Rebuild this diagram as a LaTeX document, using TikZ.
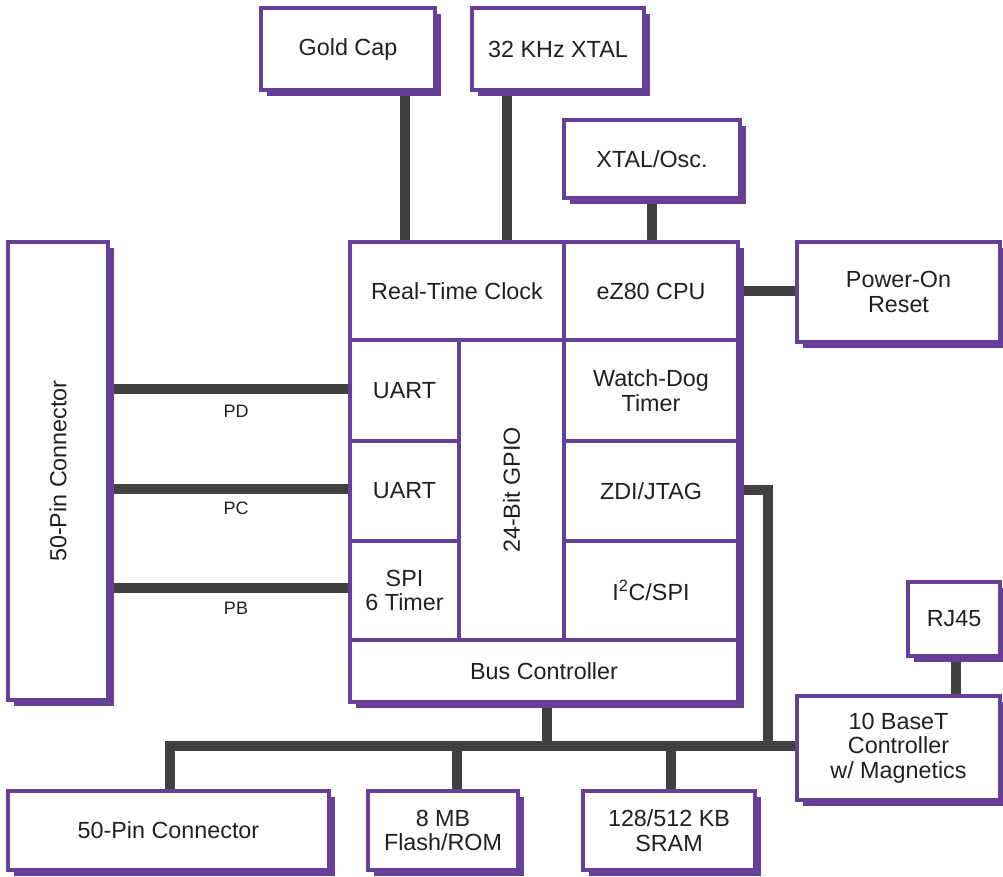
\documentclass[tikz,border=0pt]{standalone}
\usepackage{fontspec}
\setmainfont{Liberation Sans}
\usetikzlibrary{fit,shadows,backgrounds}
\definecolor{pur}{RGB}{101,63,152}
\definecolor{conc}{RGB}{64,64,64}
\definecolor{txt}{RGB}{35,31,32}
\begin{document}
\begin{tikzpicture}[x=0.75pt,y=-0.75pt,
  box/.style={draw=pur, line width=2.6pt, fill=white, inner sep=0pt, outer sep=0pt},
  sbox/.style={box, drop shadow={shadow xshift=4.5pt, shadow yshift=-4.5pt, fill=pur, opacity=1}},
  conn/.style={draw=conc, line width=7.5pt},
  tx/.style={text=txt, font=\fontsize{17.5}{18.5}\selectfont, align=center, inner sep=0pt},
  lbl/.style={text=txt, font=\fontsize{13.5}{15}\selectfont},
  rtxt/.style={tx, rotate=90}]

\useasboundingbox (0,0) rectangle (1003,876);

% outer boxes
\node[sbox, fit={(261,8)(435,90)}] (goldcap) {};
\node[tx] at (goldcap.center) {Gold Cap};
\node[sbox, fit={(472,8)(644,90)}] (xtal32) {};
\node[tx] at (xtal32.center) {32 KHz XTAL};
\node[sbox, fit={(564,120)(740,198)}] (xtalosc) {};
\node[tx] at (xtalosc.center) {XTAL/Osc.};
\node[sbox, fit={(797,242)(1000,342)}] (por) {};
\node[tx] at (por.center) {Power-On\\Reset};
\node[sbox, fit={(8,242)(108,700)}] (conL) {};
\node[rtxt] at (conL.center) {50-Pin Connector};
\node[sbox, fit={(908,582)(1000,656)}] (rj) {};
\node[tx] at (rj.center) {RJ45};
\node[sbox, fit={(797,696)(1000,800)}] (baset) {};
\node[tx] at (baset.center) {10 BaseT\\Controller\\w/ Magnetics};
\node[sbox, fit={(8,791)(329,870)}] (conB) {};
\node[tx] at (conB.center) {50-Pin Connector};
\node[sbox, fit={(368,791)(518,870)}] (flash) {};
\node[tx] at (flash.center) {8 MB\\Flash/ROM};
\node[sbox, fit={(583,791)(755,870)}] (sram) {};
\node[tx] at (sram.center) {128/512 KB\\SRAM};

% chip
\node[sbox, fit={(350,242)(738,702)}] (chip) {};
\node[box, fit={(350,242)(564,340)}] (rtc) {};
\node[tx] at (rtc.center) {Real-Time Clock};
\node[box, fit={(564,242)(738,340)}] (cpu) {};
\node[tx] at (cpu.center) {eZ80 CPU};
\node[box, fit={(350,340)(459,441)}] (uart1) {};
\node[tx] at (uart1.center) {UART};
\node[box, fit={(350,441)(459,541)}] (uart2) {};
\node[tx] at (uart2.center) {UART};
\node[box, fit={(350,541)(459,640)}] (spi) {};
\node[tx] at (spi.center) {SPI\\6 Timer};
\node[box, fit={(459,340)(564,640)}] (gpio) {};
\node[rtxt] at (gpio.center) {24-Bit GPIO};
\node[box, fit={(564,340)(738,441)}] (wdt) {};
\node[tx] at (wdt.center) {Watch-Dog\\Timer};
\node[box, fit={(564,441)(738,541)}] (zdi) {};
\node[tx] at (zdi.center) {ZDI/JTAG};
\node[box, fit={(564,541)(738,640)}] (i2c) {};
\node[tx] at (i2c.center) {I\textsuperscript{2}C/SPI};
\node[box, fit={(350,640)(738,702)}] (bus) {};
\node[tx] at (bus.center) {Bus Controller};

% labels
\node[lbl] at (236,411) (pd) {PD};
\node[lbl] at (236,508) (pc) {PC};
\node[lbl] at (236,608) (pb) {PB};

\begin{pgfonlayer}{background}
\draw[conn] (405,0 |- goldcap.south) -- (405,0 |- chip.north);
\draw[conn] (507,0 |- xtal32.south) -- (507,0 |- chip.north);
\draw[conn] (652,0 |- xtalosc.south) -- (652,0 |- chip.north);
\draw[conn] (cpu.east |- 0,291) -- (por.west |- 0,291);
\draw[conn] (conL.east |- 0,389) -- (uart1.west |- 0,389);
\draw[conn] (conL.east |- 0,489) -- (uart2.west |- 0,489);
\draw[conn] (conL.east |- 0,588) -- (spi.west |- 0,588);
\draw[conn] (956,0 |- rj.south) -- (956,0 |- baset.north);
\draw[conn] (170,0 |- conB.north) -- (170,746) -- (baset.west |- 0,746);
\draw[conn] (547,0 |- bus.south) -- (547,746);
\draw[conn] (457,746) -- (457,0 |- flash.north);
\draw[conn] (671,746) -- (671,0 |- sram.north);
\draw[conn] (zdi.east |- 0,490) -- (768,490) -- (768,746);
\end{pgfonlayer}
\end{tikzpicture}
\end{document}
